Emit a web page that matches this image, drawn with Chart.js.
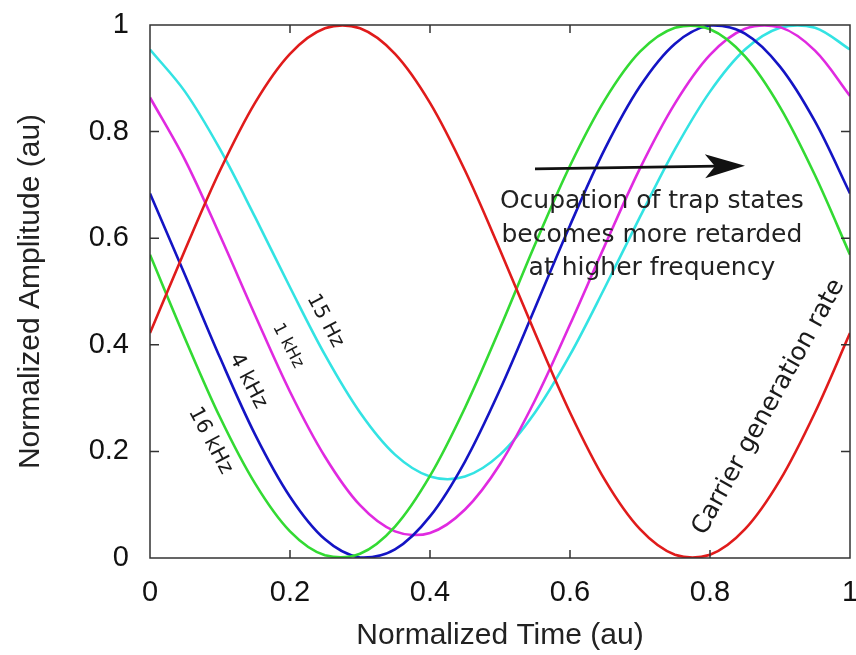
<!DOCTYPE html>
<html><head><meta charset="utf-8">
<script src="https://cdn.jsdelivr.net/npm/chart.js@4/dist/chart.umd.min.js"></script>
<style>html,body{margin:0;padding:0;background:#fff;}canvas{display:block;}</style>
</head><body>
<canvas id="c" width="856" height="655"></canvas>
<script>
// ---- data ----
const timePoints = [0,0.05,0.10,0.15,0.20,0.25,0.30,0.35,0.40,0.45,0.50,0.55,0.60,0.65,0.70,0.75,0.80,0.85,0.90,0.95,1.00];
const carrierRate = [0.422,0.578,0.727,0.854,0.946,0.994,0.994,0.946,0.854,0.727,0.578,0.422,0.273,0.146,0.054,0.006,0.006,0.054,0.146,0.273,0.422];
const trap16kHz   = [0.569,0.412,0.264,0.140,0.050,0.005,0.008,0.059,0.154,0.282,0.431,0.588,0.736,0.860,0.950,0.995,0.992,0.941,0.846,0.718,0.569];
const trap4kHz    = [0.684,0.531,0.376,0.232,0.115,0.035,0.001,0.016,0.078,0.181,0.316,0.469,0.624,0.768,0.885,0.965,0.999,0.984,0.922,0.819,0.684];
const trap1kHz    = [0.864,0.747,0.605,0.456,0.312,0.190,0.099,0.050,0.047,0.091,0.176,0.296,0.438,0.587,0.731,0.853,0.944,0.993,0.996,0.952,0.867];
const trap15Hz    = [0.954,0.875,0.767,0.640,0.508,0.381,0.273,0.194,0.153,0.153,0.194,0.273,0.381,0.508,0.640,0.767,0.875,0.954,0.995,0.995,0.954];
const xTickLabels = ['0','0.2','0.4','0.6','0.8','1'];
const yTickLabels = ['0','0.2','0.4','0.6','0.8','1'];
const seriesNames = ['Carrier generation rate','16 kHz','4 kHz','1 kHz','15 Hz'];

// ---- styling / annotation layout (not data) ----
const seriesColors = ['#e01b1b','#33da33','#1414c4','#e02ae0','#33e3e3'];
const curveTags = [
  {text:'15 Hz',  x:0.250, y:0.445, angle:62, size:20},
  {text:'1 kHz',  x:0.197, y:0.398, angle:62, size:17},
  {text:'4 kHz',  x:0.140, y:0.332, angle:62, size:21},
  {text:'16 kHz', x:0.086, y:0.220, angle:62, size:21},
  {text:'Carrier generation rate', x:0.884, y:0.283, angle:-61, size:25}
];
const noteLines = ['Ocupation of trap states','becomes more retarded','at higher frequency'];
const noteAnchor = {x:0.717, y:[0.668,0.606,0.544]};
const arrowSpec = {x0:0.55, x1:0.85, y0:0.730, y1:0.736};

const toPts = arr => timePoints.map((t,i)=>({x:t, y:arr[i]}));
const seriesData = [carrierRate, trap16kHz, trap4kHz, trap1kHz, trap15Hz];

const framePlugin = {
  id:'frame',
  afterDatasetsDraw(chart){
    const {ctx, chartArea:a, scales:{x,y}} = chart;
    ctx.save();
    ctx.strokeStyle='#333'; ctx.lineWidth=1.5;
    ctx.strokeRect(a.left, a.top, a.right-a.left, a.bottom-a.top);
    ctx.beginPath();
    x.ticks.forEach(t=>{
      const p = x.getPixelForValue(t.value);
      if (p<=a.left+1 || p>=a.right-1) return;
      ctx.moveTo(p,a.bottom); ctx.lineTo(p,a.bottom-8);
      ctx.moveTo(p,a.top); ctx.lineTo(p,a.top+8);
    });
    y.ticks.forEach(t=>{
      const p = y.getPixelForValue(t.value);
      if (p<=a.top+1 || p>=a.bottom-1) return;
      ctx.moveTo(a.left,p); ctx.lineTo(a.left+9,p);
      ctx.moveTo(a.right,p); ctx.lineTo(a.right-9,p);
    });
    ctx.stroke();
    ctx.restore();
  },
  afterDraw(chart){
    const {ctx, scales:{x,y}} = chart;
    ctx.save();
    ctx.fillStyle='#1a1a1a';
    ctx.textAlign='center'; ctx.textBaseline='middle';
    curveTags.forEach(tg=>{
      ctx.save();
      ctx.translate(x.getPixelForValue(tg.x), y.getPixelForValue(tg.y));
      ctx.rotate(tg.angle*Math.PI/180);
      ctx.font = tg.size+'px "DejaVu Sans"';
      ctx.fillText(tg.text,0,0);
      ctx.restore();
    });
    ctx.font='25px "DejaVu Sans"';
    ctx.fillStyle='#222';
    noteLines.forEach((s,i)=>{
      ctx.fillText(s, x.getPixelForValue(noteAnchor.x), y.getPixelForValue(noteAnchor.y[i]));
    });
    // arrow
    const ax0=x.getPixelForValue(arrowSpec.x0), ay0=y.getPixelForValue(arrowSpec.y0);
    const ax1=x.getPixelForValue(arrowSpec.x1), ay1=y.getPixelForValue(arrowSpec.y1);
    const ang=Math.atan2(ay1-ay0, ax1-ax0);
    ctx.translate(ax1,ay1); ctx.rotate(ang);
    const L=Math.hypot(ax1-ax0, ay1-ay0);
    ctx.strokeStyle='#111'; ctx.lineWidth=2.6;
    ctx.beginPath(); ctx.moveTo(-L,0); ctx.lineTo(-28,0); ctx.stroke();
    ctx.fillStyle='#111';
    ctx.beginPath();
    ctx.moveTo(0,0); ctx.lineTo(-40,-12); ctx.lineTo(-30,0); ctx.lineTo(-40,12); ctx.closePath();
    ctx.fill();
    ctx.restore();
  }
};

const labelFromArray = (arr) => (v) => {
  const i = Math.round(v*5);
  return (Math.abs(v*5-i)<1e-6 && arr[i]!==undefined) ? arr[i] : '';
};

new Chart(document.getElementById('c'), {
  type:'line',
  data:{
    datasets: seriesData.map((arr,i)=>({
      label: seriesNames[i],
      data: toPts(arr),
      borderColor: seriesColors[i],
      borderWidth: 2.6,
      pointRadius: 0,
      tension: 0.34,
      fill: false
    }))
  },
  options:{
    responsive:false,
    animation:false,
    events:[],
    layout:{padding:{top:25,right:6,left:0,bottom:0}},
    plugins:{legend:{display:false}, tooltip:{enabled:false}},
    scales:{
      x:{
        type:'linear', min:0, max:1,
        grid:{display:false, drawTicks:false},
        border:{display:false},
        ticks:{stepSize:0.2, padding:18, color:'#111', maxRotation:0, autoSkip:false,
               font:{family:'"Liberation Sans", Arial, sans-serif', size:29},
               callback: labelFromArray(xTickLabels)},
        title:{display:true, text:'Normalized Time (au)', color:'#222',
               font:{family:'"Liberation Sans", Arial, sans-serif', size:30}, padding:{top:0,bottom:1}},
        afterFit(s){ s.height=97; s.paddingLeft=0; s.paddingRight=0; }
      },
      y:{
        type:'linear', min:0, max:1,
        grid:{display:false, drawTicks:false},
        border:{display:false},
        ticks:{stepSize:0.2, padding:21, color:'#111',
               font:{family:'"Liberation Sans", Arial, sans-serif', size:29},
               callback: labelFromArray(yTickLabels)},
        title:{display:true, text:'Normalized Amplitude (au)', color:'#222',
               font:{family:'"Liberation Sans", Arial, sans-serif', size:30}, padding:{top:13,bottom:0}},
        afterFit(s){ s.width=150; s.paddingTop=0; s.paddingBottom=0; }
      }
    }
  },
  plugins:[framePlugin]
});
</script>
</body></html>
